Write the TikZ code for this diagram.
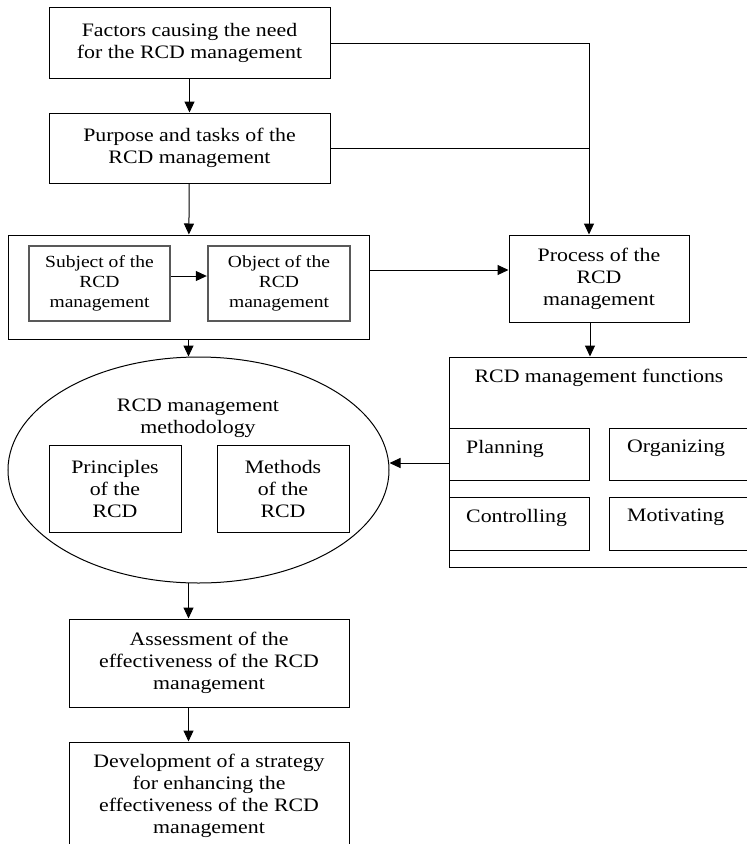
\documentclass[tikz,border=0pt]{standalone}
\usepackage{fontspec}
\setmainfont[FakeStretch=1.15]{Liberation Serif}
\usetikzlibrary{arrows.meta,positioning,shapes.geometric}

\tikzset{
  box/.style={draw, line width=1pt, align=center, inner sep=2pt,
    font=\fontsize{19}{22}\selectfont},
  inbox/.style={box, draw=black!65, line width=2.4pt,
    font=\fontsize{17}{20}\selectfont},
  fbox/.style={draw, line width=1pt, minimum width=140pt, minimum height=52pt,
    anchor=north west},
  ftext/.style={font=\fontsize{19}{22}\selectfont, inner sep=0pt,
    anchor=north west, xshift=17pt, yshift=-12pt},
  flow/.style={line width=1pt, -{Triangle[length=11pt,width=10pt]}},
  link/.style={line width=1pt}
}

\begin{document}
\begin{tikzpicture}[x=1pt,y=-1pt]
\useasboundingbox (0,0) rectangle (747,844);

% left column
\node[box, minimum width=281, minimum height=71] (factors) at (189.5,43)
  {Factors causing the need\\for the RCD management};
\node[box, minimum width=281, minimum height=70] (purpose) at (189.5,148)
  {Purpose and tasks of the\\RCD management};
\node[box, minimum width=361, minimum height=104] (outer) at (188.5,287) {};
\node[inbox, minimum width=141, minimum height=75] (subject) at (99.5,283.5)
  {Subject of the\\RCD\\management};
\node[inbox, minimum width=142, minimum height=75] (object) at (279,283.5)
  {Object of the\\RCD\\management};

% methodology
\node[draw, line width=1pt, ellipse, minimum width=381, minimum height=226] (meth) at (198.5,470) {};
\node[box, draw=none] (methtitle) at (198,418) {RCD management\\methodology};
\node[box, minimum width=132, minimum height=87] (princ) at (115,488.5)
  {Principles\\of the\\RCD};
\node[box, minimum width=132, minimum height=87] (methods) at (283,488.5)
  {Methods\\of the\\RCD};

\node[box, minimum width=280, minimum height=88] (assess) at (209,663)
  {Assessment of the\\effectiveness of the RCD\\management};
\node[box, minimum width=280, minimum height=107] (develop) at (209,795.5)
  {Development of a strategy\\for enhancing the\\effectiveness of the RCD\\management};

% right column
\node[box, minimum width=180, minimum height=87] (process) at (599,278.5)
  {Process of the\\RCD\\management};
\node[box, minimum width=321, minimum height=210] (functions) at (609.5,462) {};
\node[box, draw=none] (ftitle) at (599,378) {RCD management functions};
\node[fbox, label={[ftext]north west:Planning}] (plan) at (449,428) {};
\node[fbox, minimum width=160, label={[ftext, xshift=1pt]north west:Organizing}] (org) at (609,428) {};
\node[fbox, minimum height=53, label={[ftext]north west:Controlling}] (ctrl) at (449,497) {};
\node[fbox, minimum width=160, minimum height=53, label={[ftext, xshift=1pt]north west:Motivating}] (motiv) at (609,497) {};

\coordinate (pin) at ([xshift=-10pt]process.north);

% connectors
\draw[flow] (factors) -- (purpose);
\draw[flow] (purpose) -- (outer);
\draw[flow] (factors.east) -| (pin);
\draw[link] (purpose.east) -- (purpose.east -| pin);
\draw[flow] (subject.east |- 0,276) -- (object.west |- 0,276);
\draw[flow] (outer.east |- 0,270) -- (process.west |- 0,270);
\draw[flow] (outer.south) -- (outer.south |- meth.north);
\draw[flow] ([xshift=-9pt]process.south) -- ([xshift=-9pt]process.south |- functions.north);
\draw[flow] (functions.west |- 0,463) -- (meth.east |- 0,463);
\draw[flow] (outer.south |- 0,583) -- (outer.south |- assess.north);
\draw[flow] (outer.south |- assess.south) -- (outer.south |- develop.north);
\end{tikzpicture}
\end{document}
